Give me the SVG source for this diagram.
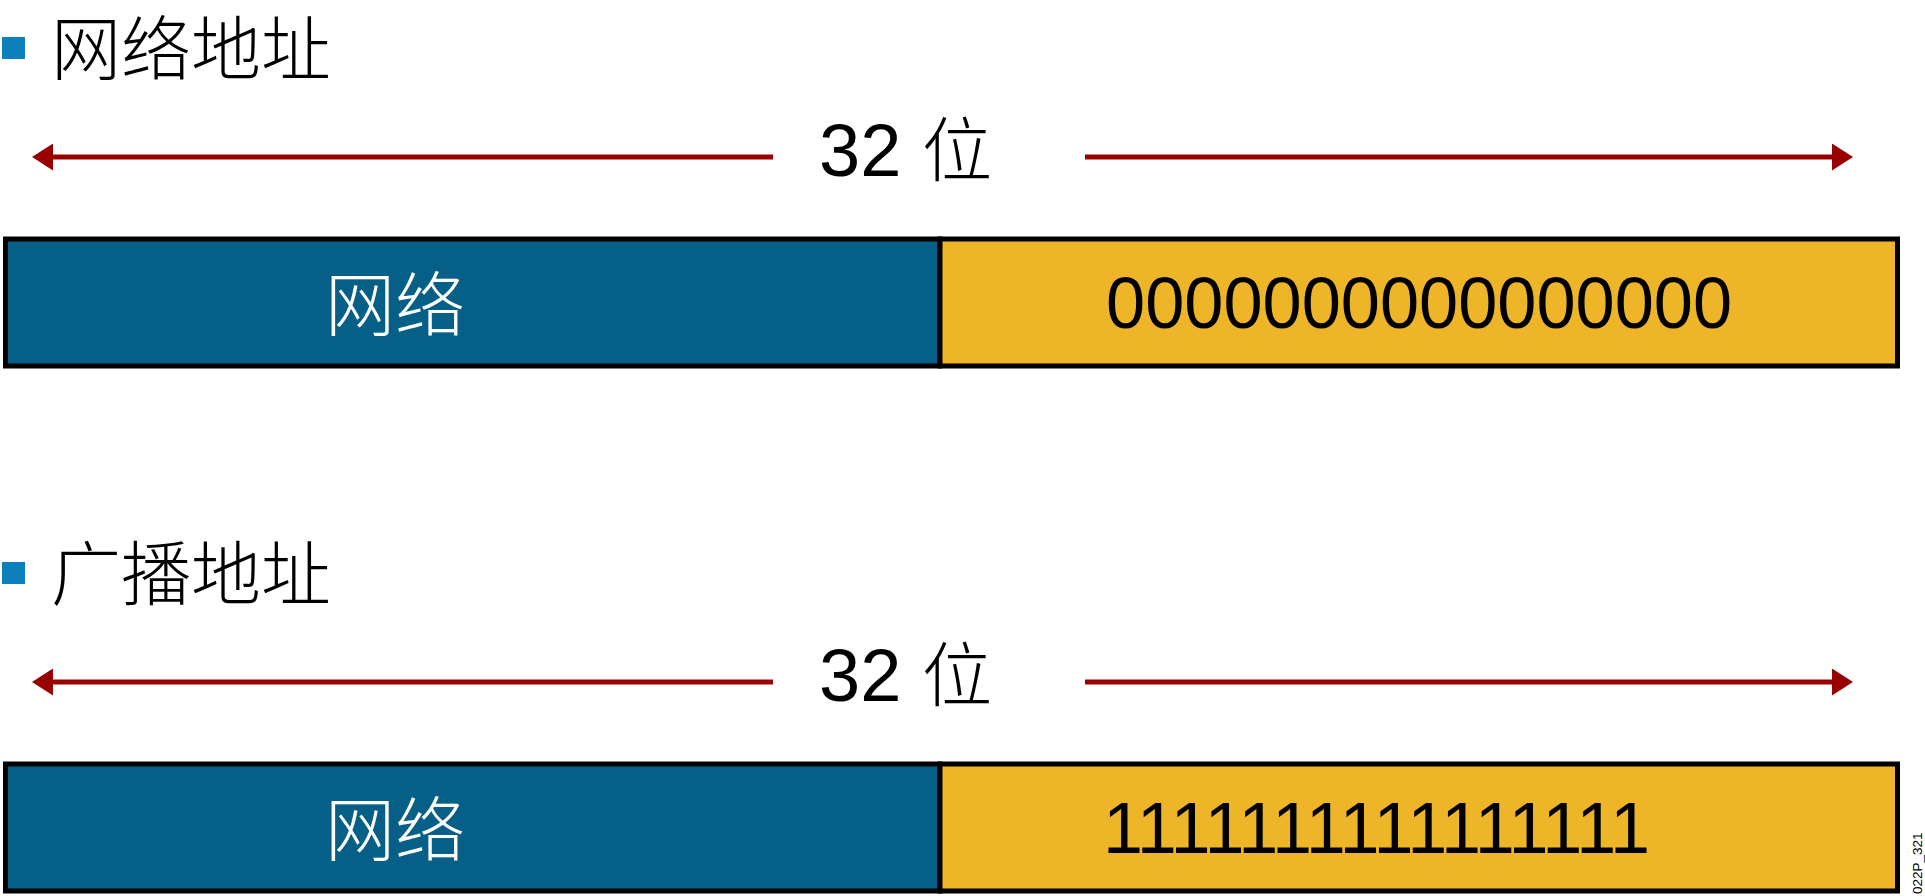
<svg xmlns="http://www.w3.org/2000/svg" width="1925" height="896" viewBox="0 0 1925 896">
  <style>
    .bg { fill: #ffffff; }
    .bullet { fill: #0B80BD; }
    .title { font-family: "Noto Sans CJK SC", "Noto Sans", sans-serif; font-size: 70px; font-weight: 300; fill: #000000; }
    .bits { font-family: "Liberation Sans", "Noto Sans CJK SC", sans-serif; font-size: 74px; fill: #000000; }
    .cjk { font-family: "Noto Sans CJK SC", sans-serif; font-size: 70px; font-weight: 300; }
    .net { fill: #065F87; stroke: #000000; stroke-width: 5; }
    .host { fill: #EEB529; stroke: #000000; stroke-width: 5; }
    .netlabel { font-family: "Noto Sans CJK SC", "Noto Sans", sans-serif; font-size: 70px; font-weight: 300; fill: #ffffff; }
    .hostlabel { font-family: "Liberation Sans", Arial, sans-serif; font-size: 72px; fill: #000000; }
    .arrow { stroke: #990000; stroke-width: 5; fill: none; }
    .tag { font-family: "Liberation Sans", Arial, sans-serif; font-size: 13.5px; fill: #000000; }
  </style>
  <defs>
    <marker id="ah" viewBox="0 0 21 27" refX="0" refY="13.5" markerWidth="21" markerHeight="27" markerUnits="userSpaceOnUse" orient="auto">
      <path d="M0,0 L21,13.5 L0,27 Z" fill="#990000"/>
    </marker>
  </defs>
  <rect class="bg" x="0" y="0" width="1925" height="896"/>

  <!-- Section 1: network address -->
  <g id="title-network">
    <rect class="bullet" x="2" y="37" width="23" height="22"/>
    <text class="title" x="51" y="75">网络地址</text>
  </g>
  <g id="width-label-1">
    <text class="bits" x="819" y="176">32 <tspan class="cjk">位</tspan></text>
  </g>
  <g id="net-field-1">
    <rect class="net" x="5.5" y="239" width="934.5" height="127"/>
    <text class="netlabel" x="325" y="331">网络</text>
  </g>
  <g id="host-field-1">
    <rect class="host" x="940" y="239" width="957.5" height="127"/>
    <text class="hostlabel" x="1106" y="328" textLength="626" lengthAdjust="spacingAndGlyphs">0000000000000000</text>
  </g>

  <!-- Section 2: broadcast address -->
  <g id="title-broadcast">
    <rect class="bullet" x="2" y="562" width="23" height="22"/>
    <text class="title" x="51" y="600">广播地址</text>
  </g>
  <g id="width-label-2">
    <text class="bits" x="819" y="701">32 <tspan class="cjk">位</tspan></text>
  </g>
  <g id="net-field-2">
    <rect class="net" x="5.5" y="764" width="934.5" height="127"/>
    <text class="netlabel" x="325" y="856">网络</text>
  </g>
  <g id="host-field-2">
    <rect class="host" x="940" y="764" width="957.5" height="127"/>
    <text class="hostlabel" x="1103" y="853" textLength="547" lengthAdjust="spacing">1111111111111111</text>
  </g>

  <g id="connectors">
    <line class="arrow" x1="773" y1="157" x2="53" y2="157" marker-end="url(#ah)"/>
    <line class="arrow" x1="1085" y1="157" x2="1832" y2="157" marker-end="url(#ah)"/>
    <line class="arrow" x1="773" y1="682" x2="53" y2="682" marker-end="url(#ah)"/>
    <line class="arrow" x1="1085" y1="682" x2="1832" y2="682" marker-end="url(#ah)"/>
  </g>

  <g id="figure-tag">
    <text class="tag" transform="translate(1922,894) rotate(-90)">022P_321</text>
  </g>
</svg>
